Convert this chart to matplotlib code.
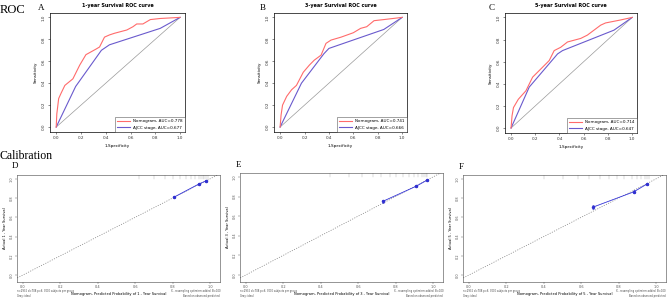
import matplotlib.pyplot as plt

W, H = 669, 298

# ROC curves (1 - specificity, sensitivity)
roc_titles = ["1-year Survival ROC curve", "3-year Survival ROC curve", "5-year Survival ROC curve"]
roc_letters = ["A", "B", "C"]
nomo_auc = [0.778, 0.741, 0.714]
stage_auc = [0.677, 0.666, 0.647]

nomo_x = [
    [0, 0.005, 0.02, 0.04, 0.07, 0.135, 0.19, 0.24, 0.32, 0.35, 0.39, 0.43, 0.47, 0.57, 0.62, 0.65, 0.70, 0.76, 0.84, 1.0],
    [0, 0.008, 0.02, 0.054, 0.094, 0.134, 0.19, 0.24, 0.28, 0.336, 0.376, 0.417, 0.5, 0.6, 0.66, 0.71, 0.77, 0.85, 1.0],
    [0, 0.008, 0.02, 0.06, 0.123, 0.178, 0.233, 0.315, 0.356, 0.41, 0.466, 0.575, 0.63, 0.685, 0.74, 0.78, 0.90, 1.0],
]
nomo_y = [
    [0, 0.12, 0.26, 0.31, 0.38, 0.44, 0.565, 0.66, 0.71, 0.73, 0.82, 0.84, 0.855, 0.885, 0.915, 0.94, 0.94, 0.98, 0.99, 1.0],
    [0, 0.11, 0.20, 0.28, 0.34, 0.38, 0.50, 0.565, 0.61, 0.656, 0.763, 0.793, 0.82, 0.86, 0.90, 0.915, 0.97, 0.98, 1.0],
    [0, 0.11, 0.185, 0.26, 0.337, 0.46, 0.52, 0.61, 0.70, 0.73, 0.778, 0.81, 0.84, 0.885, 0.93, 0.95, 0.976, 1.0],
]
stage_x = [
    [0, 0.157, 0.365, 0.43, 0.84, 1.0],
    [0, 0.175, 0.36, 0.40, 0.85, 1.0],
    [0, 0.15, 0.384, 0.425, 0.85, 1.0],
]
stage_y = [
    [0, 0.37, 0.70, 0.75, 0.90, 1.0],
    [0, 0.40, 0.67, 0.717, 0.89, 1.0],
    [0, 0.37, 0.67, 0.70, 0.885, 1.0],
]

# calibration (predicted, observed)
cal_letters = ["D", "E", "F"]
cal_years = ["1", "3", "5"]
cal_pred = [[0.807, 0.941, 0.979], [0.73, 0.91, 0.97], [0.665, 0.88, 0.95]]
cal_obs = [[0.81, 0.948, 0.98], [0.75, 0.906, 0.97], [0.708, 0.865, 0.945]]
cal_err = [[0.012, 0.010, 0.008], [0.015, 0.012, 0.008], [0.018, 0.014, 0.008]]
rug = [
    [0.62, 0.70, 0.76, 0.80, 0.84, 0.87, 0.90, 0.92, 0.94, 0.95, 0.96, 0.97, 0.98, 0.99],
    [0.45, 0.55, 0.62, 0.68, 0.72, 0.77, 0.80, 0.84, 0.87, 0.90, 0.92, 0.94, 0.95, 0.96, 0.97],
    [0.40, 0.50, 0.58, 0.64, 0.70, 0.75, 0.79, 0.83, 0.87, 0.90, 0.92, 0.94, 0.95, 0.96],
]

fig = plt.figure(figsize=(W / 100, H / 100), dpi=100)


def box(l, t, r, b):
    return [l / W, 1 - b / H, (r - l) / W, (b - t) / H]


serif = "Liberation Serif"
fig.text(0 / W, 1 - 10 / H, "ROC", family=serif, fontsize=9, va="center", ha="left")
fig.text(0 / W, 1 - 156 / H, "Calibration", family=serif, fontsize=8.5, va="center", ha="left")

roc_boxes = [(50, 13, 185, 132), (274, 13, 407, 132), (505, 13, 637, 133)]
letter_x = [38, 260, 489]
for i in range(3):
    ax = fig.add_axes(box(*roc_boxes[i]))
    ax.plot([0, 1], [0, 1], color="#999999", lw=0.5)
    ax.plot(stage_x[i], stage_y[i], color="#6a5acd", lw=0.8,
            label="AJCC stage, AUC=%.3f" % stage_auc[i])
    ax.plot(nomo_x[i], nomo_y[i], color="#ff6b6b", lw=0.8,
            label="Nomogram, AUC=%.3f" % nomo_auc[i])
    h, l = ax.get_legend_handles_labels()
    leg = ax.legend(h[::-1], l[::-1], loc="lower right", fontsize=3, frameon=True,
                    fancybox=False, edgecolor="#333333", handlelength=3,
                    borderaxespad=0, borderpad=0.6)
    leg.get_frame().set_linewidth(0.4)
    ax.set_xlim(-0.05, 1.04)
    ax.set_ylim(-0.045, 1.04)
    ax.set_xticks([0, 0.2, 0.4, 0.6, 0.8, 1.0])
    ax.set_yticks([0, 0.2, 0.4, 0.6, 0.8, 1.0])
    ax.set_xticklabels(["0.0", "0.2", "0.4", "0.6", "0.8", "1.0"])
    ax.set_yticklabels(["0.0", "0.2", "0.4", "0.6", "0.8", "1.0"], rotation=90, va="center")
    ax.tick_params(labelsize=3, width=0.4, length=1.5, pad=1.5, colors="#333333")
    ax.set_xlabel("1-Specificity", fontsize=3, labelpad=3)
    ax.set_ylabel("Sensitivity", fontsize=3, labelpad=3)
    ax.set_title(roc_titles[i], fontsize=3.5, fontweight="bold", pad=4)
    for s in ax.spines.values():
        s.set_linewidth(0.5)
    fig.text(letter_x[i] / W, 1 - 8 / H, roc_letters[i], family=serif, fontsize=6.5,
             va="center", ha="left")

cal_boxes = [(17, 175, 220, 282), (240, 173, 443, 282), (463, 175, 666, 282)]
cal_letter_pos = [(12, 166), (236, 165), (459, 167)]
for i in range(3):
    ax = fig.add_axes(box(*cal_boxes[i]))
    ax.plot([-0.1, 1.1], [-0.1, 1.1], color="#777777", lw=0.5, ls=(0, (1.5, 2)))
    for x in rug[i]:
        ax.plot([x, x], [1.04, 1.0], color="#aaaaaa", lw=0.3)
    ax.errorbar(cal_pred[i], cal_obs[i], yerr=cal_err[i], color="#3030d0", lw=0.5,
                marker="o", ms=1.5, elinewidth=0.4, capsize=0.6, capthick=0.4)
    ax.plot(cal_pred[i], [o - 0.003 for o in cal_obs[i]], color="#8080ff", lw=0.3)
    ax.set_xlim(-0.032, 1.053)
    ax.set_ylim(-0.073, 1.04)
    ax.set_xticks([0, 0.2, 0.4, 0.6, 0.8, 1.0])
    ax.set_yticks([0, 0.2, 0.4, 0.6, 0.8, 1.0])
    ax.set_xticklabels(["0.0", "0.2", "0.4", "0.6", "0.8", "1.0"])
    ax.set_yticklabels(["0.0", "0.2", "0.4", "0.6", "0.8", "1.0"], rotation=90, va="center")
    ax.tick_params(labelsize=2.5, width=0.3, length=1.2, pad=1.2, colors="#555555")
    ax.set_xlabel("Nomogram- Predicted Probability of %s - Year Survival" % cal_years[i],
                  fontsize=2.6, labelpad=2)
    ax.set_ylabel("Actual %s - Year Survival" % cal_years[i], fontsize=2.6, labelpad=2)
    for s in ax.spines.values():
        s.set_linewidth(0.4)
        s.set_color("#444444")
    ax.text(0.0, -0.065, "n=2932 d=708 p=6, 3000 subjects per group\nGray: ideal",
            transform=ax.transAxes, fontsize=1.8, va="top", ha="left", color="#444444")
    ax.text(1.0, -0.065, "X - resampling optimism added, B=100\nBased on observed-predicted",
            transform=ax.transAxes, fontsize=1.8, va="top", ha="right", color="#444444")
    lx, ly = cal_letter_pos[i]
    fig.text(lx / W, 1 - ly / H, cal_letters[i], family=serif, fontsize=6.5,
             va="center", ha="left")

fig.savefig("out.png", dpi=100)
